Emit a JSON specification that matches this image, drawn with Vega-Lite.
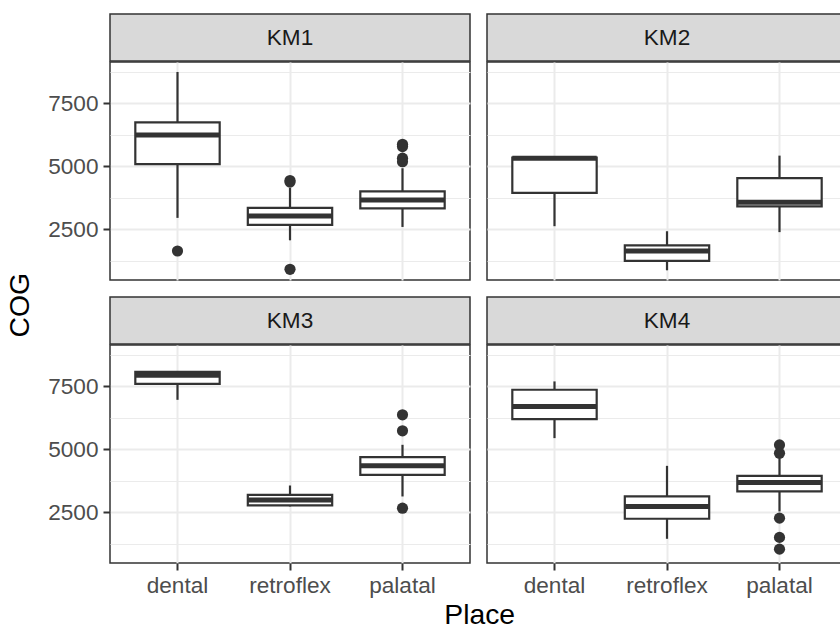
{
  "$schema": "https://vega.github.io/schema/vega-lite/v6.json",
  "background": "white",
  "padding": {"left": 5, "top": 13, "right": 0, "bottom": 0},
  "title": {"text": "Place", "orient": "bottom", "anchor": "middle", "frame": "bounds", "dx": 53, "offset": 5},
  "datasets": {
    "strips": [{"speaker": "KM1"}, {"speaker": "KM2"}, {"speaker": "KM3"}, {"speaker": "KM4"}],
    "boxes": [
      {"speaker": "KM1", "place": "dental", "lower": 2960, "q1": 5090, "median": 6250, "q3": 6750, "upper": 8750},
      {"speaker": "KM1", "place": "retroflex", "lower": 2070, "q1": 2680, "median": 3030, "q3": 3355, "upper": 4150},
      {"speaker": "KM1", "place": "palatal", "lower": 2600, "q1": 3340, "median": 3670, "q3": 4015, "upper": 4930},
      {"speaker": "KM2", "place": "dental", "lower": 2630, "q1": 3950, "median": 5330, "q3": 5350, "upper": 5350},
      {"speaker": "KM2", "place": "retroflex", "lower": 880, "q1": 1250, "median": 1645, "q3": 1870, "upper": 2430},
      {"speaker": "KM2", "place": "palatal", "lower": 2395, "q1": 3420, "median": 3580, "q3": 4540, "upper": 5430},
      {"speaker": "KM3", "place": "dental", "lower": 6970, "q1": 7605, "median": 7940, "q3": 8080, "upper": 8080},
      {"speaker": "KM3", "place": "retroflex", "lower": 2740, "q1": 2780, "median": 2990, "q3": 3200, "upper": 3570},
      {"speaker": "KM3", "place": "palatal", "lower": 3135, "q1": 3995, "median": 4350, "q3": 4695, "upper": 5185},
      {"speaker": "KM4", "place": "dental", "lower": 5450, "q1": 6205, "median": 6705, "q3": 7370, "upper": 7700},
      {"speaker": "KM4", "place": "retroflex", "lower": 1455, "q1": 2250, "median": 2740, "q3": 3135, "upper": 4350},
      {"speaker": "KM4", "place": "palatal", "lower": 2540, "q1": 3335, "median": 3690, "q3": 3955, "upper": 4700}
    ],
    "outliers": [
      {"speaker": "KM1", "place": "dental", "COG": 1645},
      {"speaker": "KM1", "place": "retroflex", "COG": 4440},
      {"speaker": "KM1", "place": "retroflex", "COG": 4380},
      {"speaker": "KM1", "place": "retroflex", "COG": 920},
      {"speaker": "KM1", "place": "palatal", "COG": 5880},
      {"speaker": "KM1", "place": "palatal", "COG": 5790},
      {"speaker": "KM1", "place": "palatal", "COG": 5330},
      {"speaker": "KM1", "place": "palatal", "COG": 5190},
      {"speaker": "KM3", "place": "palatal", "COG": 6375},
      {"speaker": "KM3", "place": "palatal", "COG": 5740},
      {"speaker": "KM3", "place": "palatal", "COG": 2670},
      {"speaker": "KM4", "place": "palatal", "COG": 5180},
      {"speaker": "KM4", "place": "palatal", "COG": 4850},
      {"speaker": "KM4", "place": "palatal", "COG": 2275},
      {"speaker": "KM4", "place": "palatal", "COG": 1510},
      {"speaker": "KM4", "place": "palatal", "COG": 1045}
    ]
  },
  "vconcat": [
    {
      "title": {"text": "COG", "orient": "left", "anchor": "middle", "frame": "bounds", "offset": 12},
      "spacing": 15,
      "vconcat": [
        {
          "spacing": 15,
          "hconcat": [
            {
              "spacing": -1.5,
              "vconcat": [
                {"data": {"name": "strips"}, "transform": [{"filter": "datum.speaker === 'KM1'"}], "width": 360, "height": 47,
                 "view": {"fill": "#d9d9d9", "stroke": "#333333", "strokeWidth": 1.5},
                 "mark": {"type": "text", "font": "Liberation Sans", "fontSize": 22.6, "color": "#1a1a1a", "baseline": "middle"},
                 "encoding": {"text": {"field": "speaker"}}},
                {"width": 360, "height": 218,
                 "view": {"fill": "white", "stroke": "#333333", "strokeWidth": 1.5},
                 "resolve": {"axis": {"y": "independent"}},
                 "encoding": {"x": {"field": "place", "type": "nominal", "title": null,
                   "scale": {"domain": ["dental", "retroflex", "palatal"], "paddingInner": 0.25, "paddingOuter": 0.225},
                   "axis": {"labels": false, "ticks": false, "domain": false, "grid": true, "bandPosition": 0.5, "gridWidth": 2}}},
                 "layer": [
                   {"data": {"name": "boxes"}, "transform": [{"filter": "datum.speaker === 'KM1'"}],
                    "mark": {"type": "rule", "color": "#333333", "strokeWidth": 2.2},
                    "encoding": {"y": {"field": "lower", "type": "quantitative", "title": null,
                       "scale": {"domain": [495, 9145], "nice": false, "zero": false},
                       "axis": {"orient": "left", "values": [2500, 5000, 7500], "format": "d", "domain": false, "grid": true, "gridWidth": 2}},
                      "y2": {"field": "upper"}}},
                   {"data": {"name": "boxes"}, "transform": [{"filter": "datum.speaker === 'KM1'"}],
                    "mark": {"type": "bar", "fill": "white", "stroke": "#333333", "strokeWidth": 2.2},
                    "encoding": {"y": {"field": "q1", "type": "quantitative", "title": null, "axis": null}, "y2": {"field": "q3"}}},
                   {"data": {"name": "boxes"}, "transform": [{"filter": "datum.speaker === 'KM1'"}],
                    "mark": {"type": "tick", "orient": "horizontal", "color": "#333333", "thickness": 5, "size": 84.4, "opacity": 1},
                    "encoding": {"y": {"field": "median", "type": "quantitative", "title": null, "axis": null}}},
                   {"data": {"name": "outliers"}, "transform": [{"filter": "datum.speaker === 'KM1'"}],
                    "mark": {"type": "circle", "color": "#333333", "size": 125, "opacity": 1},
                    "encoding": {"y": {"field": "COG", "type": "quantitative", "title": null,
                       "axis": {"orient": "left", "values": [1250, 3750, 6250, 8750], "labels": false, "ticks": false, "domain": false, "grid": true, "gridWidth": 1}}}}
                 ]}
              ]
            },
            {
              "spacing": -1.5,
              "vconcat": [
                {"data": {"name": "strips"}, "transform": [{"filter": "datum.speaker === 'KM2'"}], "width": 360, "height": 47,
                 "view": {"fill": "#d9d9d9", "stroke": "#333333", "strokeWidth": 1.5},
                 "mark": {"type": "text", "font": "Liberation Sans", "fontSize": 22.6, "color": "#1a1a1a", "baseline": "middle"},
                 "encoding": {"text": {"field": "speaker"}}},
                {"width": 360, "height": 218,
                 "view": {"fill": "white", "stroke": "#333333", "strokeWidth": 1.5},
                 "resolve": {"axis": {"y": "independent"}},
                 "encoding": {"x": {"field": "place", "type": "nominal", "title": null,
                   "scale": {"domain": ["dental", "retroflex", "palatal"], "paddingInner": 0.25, "paddingOuter": 0.225},
                   "axis": {"labels": false, "ticks": false, "domain": false, "grid": true, "bandPosition": 0.5, "gridWidth": 2}}},
                 "layer": [
                   {"data": {"name": "boxes"}, "transform": [{"filter": "datum.speaker === 'KM2'"}],
                    "mark": {"type": "rule", "color": "#333333", "strokeWidth": 2.2},
                    "encoding": {"y": {"field": "lower", "type": "quantitative", "title": null,
                       "scale": {"domain": [495, 9145], "nice": false, "zero": false},
                       "axis": {"orient": "left", "values": [2500, 5000, 7500], "labels": false, "ticks": false, "domain": false, "grid": true, "gridWidth": 2}},
                      "y2": {"field": "upper"}}},
                   {"data": {"name": "boxes"}, "transform": [{"filter": "datum.speaker === 'KM2'"}],
                    "mark": {"type": "bar", "fill": "white", "stroke": "#333333", "strokeWidth": 2.2},
                    "encoding": {"y": {"field": "q1", "type": "quantitative", "title": null, "axis": null}, "y2": {"field": "q3"}}},
                   {"data": {"name": "boxes"}, "transform": [{"filter": "datum.speaker === 'KM2'"}],
                    "mark": {"type": "tick", "orient": "horizontal", "color": "#333333", "thickness": 5, "size": 84.4, "opacity": 1},
                    "encoding": {"y": {"field": "median", "type": "quantitative", "title": null, "axis": null}}},
                   {"data": {"name": "outliers"}, "transform": [{"filter": "datum.speaker === 'KM2'"}],
                    "mark": {"type": "circle", "color": "#333333", "size": 125, "opacity": 1},
                    "encoding": {"y": {"field": "COG", "type": "quantitative", "title": null,
                       "axis": {"orient": "left", "values": [1250, 3750, 6250, 8750], "labels": false, "ticks": false, "domain": false, "grid": true, "gridWidth": 1}}}}
                 ]}
              ]
            }
          ]
        },
        {
          "spacing": 15,
          "hconcat": [
            {
              "spacing": -1.5,
              "vconcat": [
                {"data": {"name": "strips"}, "transform": [{"filter": "datum.speaker === 'KM3'"}], "width": 360, "height": 47,
                 "view": {"fill": "#d9d9d9", "stroke": "#333333", "strokeWidth": 1.5},
                 "mark": {"type": "text", "font": "Liberation Sans", "fontSize": 22.6, "color": "#1a1a1a", "baseline": "middle"},
                 "encoding": {"text": {"field": "speaker"}}},
                {"width": 360, "height": 218,
                 "view": {"fill": "white", "stroke": "#333333", "strokeWidth": 1.5},
                 "resolve": {"axis": {"y": "independent"}},
                 "encoding": {"x": {"field": "place", "type": "nominal", "title": null,
                   "scale": {"domain": ["dental", "retroflex", "palatal"], "paddingInner": 0.25, "paddingOuter": 0.225},
                   "axis": {"labels": true, "ticks": true, "labelAngle": 0, "labelPadding": 4, "domain": false, "grid": true, "bandPosition": 0.5, "gridWidth": 2}}},
                 "layer": [
                   {"data": {"name": "boxes"}, "transform": [{"filter": "datum.speaker === 'KM3'"}],
                    "mark": {"type": "rule", "color": "#333333", "strokeWidth": 2.2},
                    "encoding": {"y": {"field": "lower", "type": "quantitative", "title": null,
                       "scale": {"domain": [495, 9145], "nice": false, "zero": false},
                       "axis": {"orient": "left", "values": [2500, 5000, 7500], "format": "d", "domain": false, "grid": true, "gridWidth": 2}},
                      "y2": {"field": "upper"}}},
                   {"data": {"name": "boxes"}, "transform": [{"filter": "datum.speaker === 'KM3'"}],
                    "mark": {"type": "bar", "fill": "white", "stroke": "#333333", "strokeWidth": 2.2},
                    "encoding": {"y": {"field": "q1", "type": "quantitative", "title": null, "axis": null}, "y2": {"field": "q3"}}},
                   {"data": {"name": "boxes"}, "transform": [{"filter": "datum.speaker === 'KM3'"}],
                    "mark": {"type": "tick", "orient": "horizontal", "color": "#333333", "thickness": 5, "size": 84.4, "opacity": 1},
                    "encoding": {"y": {"field": "median", "type": "quantitative", "title": null, "axis": null}}},
                   {"data": {"name": "outliers"}, "transform": [{"filter": "datum.speaker === 'KM3'"}],
                    "mark": {"type": "circle", "color": "#333333", "size": 125, "opacity": 1},
                    "encoding": {"y": {"field": "COG", "type": "quantitative", "title": null,
                       "axis": {"orient": "left", "values": [1250, 3750, 6250, 8750], "labels": false, "ticks": false, "domain": false, "grid": true, "gridWidth": 1}}}}
                 ]}
              ]
            },
            {
              "spacing": -1.5,
              "vconcat": [
                {"data": {"name": "strips"}, "transform": [{"filter": "datum.speaker === 'KM4'"}], "width": 360, "height": 47,
                 "view": {"fill": "#d9d9d9", "stroke": "#333333", "strokeWidth": 1.5},
                 "mark": {"type": "text", "font": "Liberation Sans", "fontSize": 22.6, "color": "#1a1a1a", "baseline": "middle"},
                 "encoding": {"text": {"field": "speaker"}}},
                {"width": 360, "height": 218,
                 "view": {"fill": "white", "stroke": "#333333", "strokeWidth": 1.5},
                 "resolve": {"axis": {"y": "independent"}},
                 "encoding": {"x": {"field": "place", "type": "nominal", "title": null,
                   "scale": {"domain": ["dental", "retroflex", "palatal"], "paddingInner": 0.25, "paddingOuter": 0.225},
                   "axis": {"labels": true, "ticks": true, "labelAngle": 0, "labelPadding": 4, "domain": false, "grid": true, "bandPosition": 0.5, "gridWidth": 2}}},
                 "layer": [
                   {"data": {"name": "boxes"}, "transform": [{"filter": "datum.speaker === 'KM4'"}],
                    "mark": {"type": "rule", "color": "#333333", "strokeWidth": 2.2},
                    "encoding": {"y": {"field": "lower", "type": "quantitative", "title": null,
                       "scale": {"domain": [495, 9145], "nice": false, "zero": false},
                       "axis": {"orient": "left", "values": [2500, 5000, 7500], "labels": false, "ticks": false, "domain": false, "grid": true, "gridWidth": 2}},
                      "y2": {"field": "upper"}}},
                   {"data": {"name": "boxes"}, "transform": [{"filter": "datum.speaker === 'KM4'"}],
                    "mark": {"type": "bar", "fill": "white", "stroke": "#333333", "strokeWidth": 2.2},
                    "encoding": {"y": {"field": "q1", "type": "quantitative", "title": null, "axis": null}, "y2": {"field": "q3"}}},
                   {"data": {"name": "boxes"}, "transform": [{"filter": "datum.speaker === 'KM4'"}],
                    "mark": {"type": "tick", "orient": "horizontal", "color": "#333333", "thickness": 5, "size": 84.4, "opacity": 1},
                    "encoding": {"y": {"field": "median", "type": "quantitative", "title": null, "axis": null}}},
                   {"data": {"name": "outliers"}, "transform": [{"filter": "datum.speaker === 'KM4'"}],
                    "mark": {"type": "circle", "color": "#333333", "size": 125, "opacity": 1},
                    "encoding": {"y": {"field": "COG", "type": "quantitative", "title": null,
                       "axis": {"orient": "left", "values": [1250, 3750, 6250, 8750], "labels": false, "ticks": false, "domain": false, "grid": true, "gridWidth": 1}}}}
                 ]}
              ]
            }
          ]
        }
      ]
    }
  ],
  "config": {
    "font": "Liberation Sans",
    "view": {"stroke": "#333333", "strokeWidth": 1.5},
    "axis": {"gridColor": "#ebebeb", "tickColor": "#333333", "tickWidth": 2, "tickSize": 7,
             "labelFont": "Liberation Sans", "labelFontSize": 22.6, "labelColor": "#4d4d4d", "labelPadding": 5},
    "title": {"font": "Liberation Sans", "fontSize": 28.3, "fontWeight": "normal", "color": "#000000"}
  }
}
